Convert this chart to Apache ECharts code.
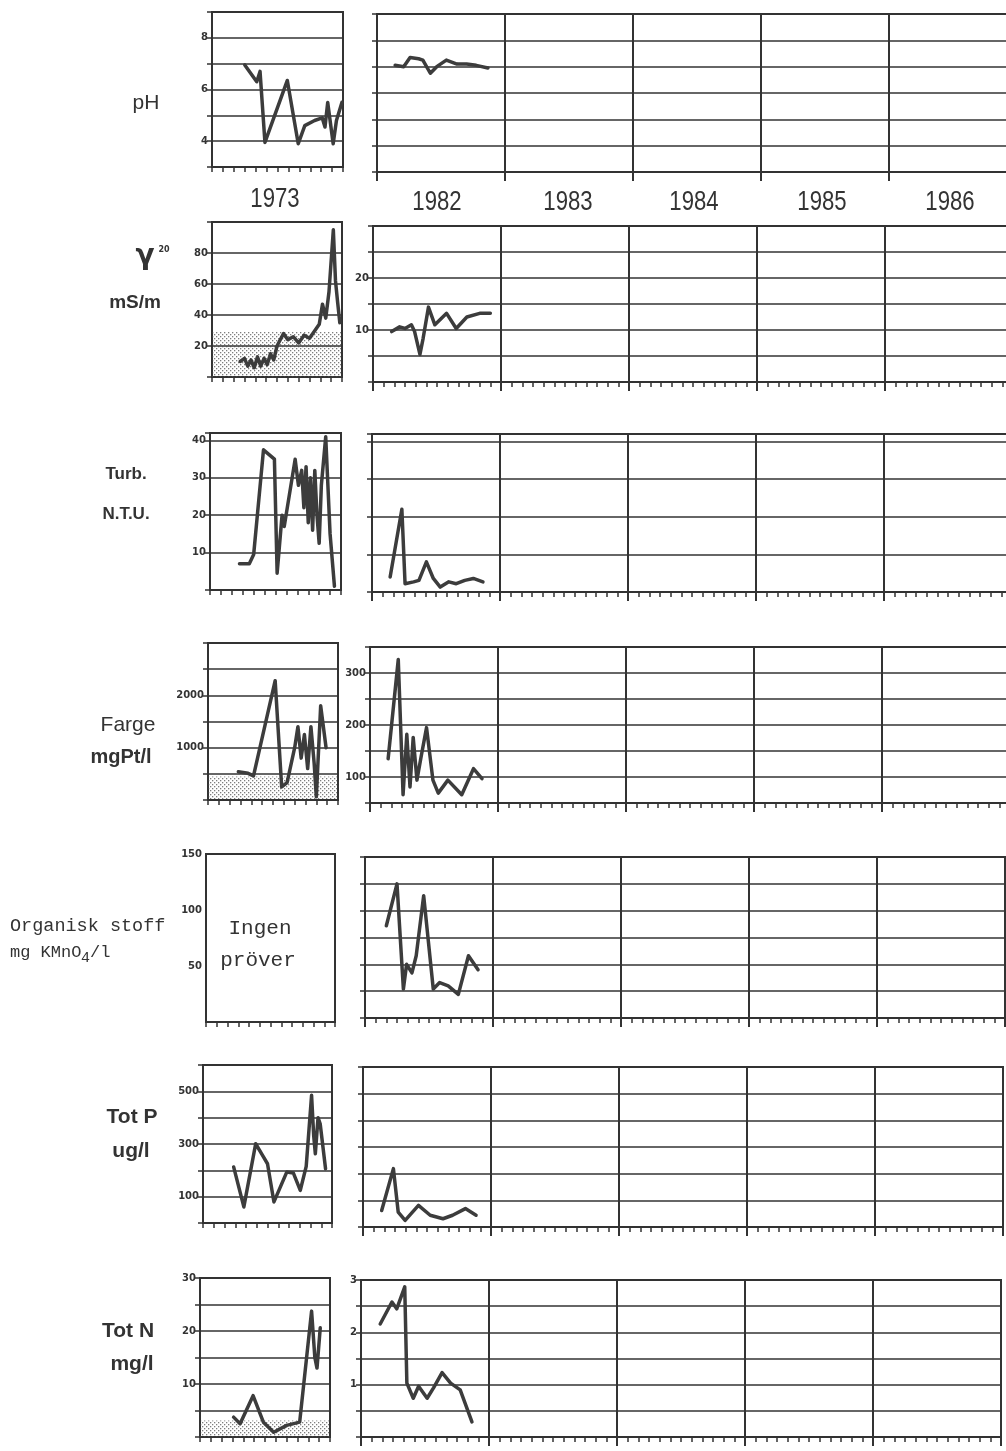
<!DOCTYPE html>
<html><head><meta charset="utf-8">
<script src="https://cdn.jsdelivr.net/npm/echarts@6/dist/echarts.min.js"></script>
<style>html,body{margin:0;padding:0;background:#fff}#c{width:1006px;height:1451px}</style>
</head><body><div id="c"></div>
<script>
// ---------- DATA (month within panel, value) ----------
const yearLabels = ['1973','1982','1983','1984','1985','1986'];
const rowTitles = ['pH','mS/m','Turb.','Farge','Organisk stoff','Tot P','Tot N'];

const ph1973 = [[3.0,6.95],[4.1,6.3],[4.4,6.7],[4.85,3.95],[6.9,6.35],[7.9,3.9],[8.5,4.6],[9.4,4.8],[10.1,4.9],[10.35,4.55],[10.6,5.5],[11.1,3.9],[11.4,4.8],[11.9,5.5]];
const ph1982 = [[1.7,7.05],[2.5,7.0],[3.1,7.35],[3.9,7.3],[4.3,7.25],[5.0,6.75],[5.6,7.0],[6.5,7.25],[7.5,7.1],[8.4,7.1],[9.3,7.05],[10.4,6.95]];

const cond1973 = [[2.6,10],[3.0,12],[3.3,7],[3.6,11],[3.9,6],[4.2,13],[4.5,7],[4.8,12],[5.1,8],[5.4,15],[5.7,11],[6.0,20],[6.3,24],[6.6,28],[7.0,24],[7.5,26],[8.0,22],[8.5,27],[9.0,25],[9.5,30],[9.9,34],[10.2,47],[10.5,38],[10.8,55],[11.2,95],[11.4,62],[11.6,48],[11.8,35]];
const cond1982 = [[1.75,9.7],[2.5,10.6],[3.0,10.3],[3.6,11],[3.9,9.7],[4.4,5.3],[4.7,8.4],[5.2,14.4],[5.8,11],[6.9,13.2],[7.8,10.3],[8.8,12.5],[10.0,13.2],[11.0,13.2]];

const turb1973 = [[2.7,7],[3.6,7],[4.0,9.5],[4.9,37.5],[5.9,35],[6.15,4.5],[6.6,20],[6.8,17],[7.8,35],[8.1,28],[8.4,32],[8.6,22],[8.8,33],[9.0,18],[9.2,30],[9.4,16],[9.6,32],[9.8,20],[10.0,12.5],[10.2,28],[10.6,41],[11.0,15],[11.4,1]];
const turb1982 = [[1.7,4],[2.8,22],[3.1,2.2],[3.9,2.7],[4.4,3.1],[5.1,8],[5.75,3.6],[6.4,1.3],[7.2,2.7],[7.9,2.2],[8.7,3.1],[9.5,3.6],[10.4,2.7]];

const farge1973 = [[2.8,540],[3.7,510],[4.2,460],[6.2,2280],[6.8,250],[7.3,330],[8.0,1000],[8.3,1400],[8.6,800],[8.9,1250],[9.2,600],[9.5,1400],[9.8,700],[10.0,60],[10.4,1800],[10.9,1000]];
const farge1982 = [[1.7,135],[2.65,326],[3.1,66],[3.45,182],[3.75,81],[4.05,176],[4.4,94],[4.8,140],[5.3,195],[5.9,94],[6.4,69],[7.3,94],[8.6,66],[9.7,116],[10.5,97]];

const org1982 = [[2.0,86],[3.0,125],[3.6,27],[3.9,50],[4.4,42],[4.8,58],[5.5,114],[6.4,27],[7.0,33],[7.8,30],[8.75,22],[9.7,58],[10.6,45]];

const totp1973 = [[2.85,213],[3.8,61],[4.9,301],[5.5,260],[6.0,225],[6.6,80],[7.8,194],[8.4,190],[9.05,124],[9.6,215],[10.1,485],[10.3,330],[10.45,263],[10.7,400],[10.9,377],[11.4,206]];
const totp1982 = [[1.75,62],[2.85,219],[3.3,56],[3.95,25],[5.2,81],[6.3,44],[7.5,31],[8.4,44],[9.6,69],[10.6,44]];

const totn1973 = [[3.1,3.75],[3.7,2.5],[4.9,7.8],[5.85,2.8],[6.8,0.9],[8.0,2.2],[9.2,2.8],[10.3,23.75],[10.6,15],[10.8,13],[11.1,20.6]];
const totn1982 = [[1.8,2.16],[2.9,2.58],[3.35,2.45],[4.1,2.87],[4.3,1.03],[4.9,0.74],[5.4,0.97],[6.2,0.74],[6.8,0.94],[7.6,1.23],[8.4,1.03],[9.3,0.9],[10.4,0.29]];

// shaded (dotted) limit bands in 1973 panels
const condShade = [0, 29];
const fargeShade = [0, 450];
const totnShade = [0, 3.1];

// tick labels shown
const ph1973Ticks = [4,6,8];
const cond1973Ticks = [20,40,60,80];
const cond1982Ticks = [10,20];
const turb1973Ticks = [10,20,30,40];
const farge1973Ticks = [1000,2000];
const farge1982Ticks = [100,200,300];
const org1973Ticks = [50,100,150];
const totp1973Ticks = [100,300,500];
const totn1973Ticks = [10,20,30];
const totn1982Ticks = [1,2,3];

// ---------- STYLE / LAYOUT ----------
const INK = '#333';
const LINE = '#3c3c3c';

function dotPattern(){
  const c = document.createElement('canvas'); c.width = 4; c.height = 4;
  const g = c.getContext('2d');
  g.fillStyle = 'rgba(70,70,70,0.7)';
  g.fillRect(0,0,1.3,1.3); g.fillRect(2,2,1.3,1.3);
  return c;
}
const pattern = {image: dotPattern(), repeat: 'repeat'};

// right panels: 5 years, 128 px per year (upper ones run past the page edge)
const RW = 640;
const panels = [
  {g:[212,12,131,155], x:'L', y:[3,9,1], labels:ph1973Ticks, data:ph1973},
  {g:[377,14,RW,158], x:'R', y:[3,9,1], labels:[], data:ph1982, minor:false},
  {g:[212,222,130,155], x:'L', y:[0,100,20], labels:cond1973Ticks, data:cond1973, shade:condShade},
  {g:[373,226,RW,156], x:'R', y:[0,30,5], labels:cond1982Ticks, data:cond1982, minor:true},
  {g:[210,433,131,157], x:'L', y:[0,42,10], labels:turb1973Ticks, data:turb1973},
  {g:[372,434,RW,158], x:'R', y:[0,42,10], labels:[], data:turb1982, minor:true},
  {g:[208,643,130,157], x:'L', y:[0,3000,500], labels:farge1973Ticks, data:farge1973, shade:fargeShade},
  {g:[370,647,RW,156], x:'R', y:[50,350,50], labels:farge1982Ticks, data:farge1982, minor:true},
  {g:[206,854,129,168], x:'L', y:[0,150,50], labels:org1973Ticks, data:null, nogrid:true},
  {g:[365,857,RW,161], x:'R', y:[0,150,25], labels:[], data:org1982, minor:true},
  {g:[203,1065,129,158], x:'L', y:[0,600,100], labels:totp1973Ticks, data:totp1973},
  {g:[363,1067,RW,160], x:'R', y:[0,600,100], labels:[], data:totp1982, minor:true},
  {g:[200,1278,130,159], x:'L', y:[0,30,5], labels:totn1973Ticks, data:totn1973, shade:totnShade},
  {g:[361,1280,RW,157], x:'R', y:[0,3,0.5], labels:totn1982Ticks, data:totn1982, minor:true}
];

const grids = [], xAxes = [], yAxes = [], series = [];
panels.forEach((p, i) => {
  grids.push({left:p.g[0], top:p.g[1], width:p.g[2], height:p.g[3], show:true,
    outerBoundsMode:'none', containLabel:false,
    borderColor:INK, borderWidth:2, backgroundColor:'transparent'});
  if (p.x === 'L') {
    xAxes.push({type:'value', gridIndex:i, min:0, max:12, interval:1,
      axisLine:{show:false}, axisLabel:{show:false}, splitLine:{show:false},
      axisTick:{show:true, length:5, lineStyle:{color:INK, width:1.5}}});
  } else {
    xAxes.push({type:'value', gridIndex:i, min:0, max:60, interval:12,
      axisLine:{show:false}, axisLabel:{show:false},
      splitLine:{show:true, lineStyle:{color:INK, width:2}},
      axisTick:{show:true, length:9, lineStyle:{color:INK, width:2}},
      minorTick:{show:!!p.minor, splitNumber:12, length:5, lineStyle:{color:INK, width:1.5}}});
  }
  const labs = p.labels;
  yAxes.push({type:'value', gridIndex:i, min:p.y[0], max:p.y[1], interval:p.y[2],
    axisLine:{show:false},
    axisTick:{show:!p.nogrid, length:5, lineStyle:{color:INK, width:1.5}},
    axisLabel:{show:labs.length>0, margin:4, color:INK, fontSize:10, fontWeight:'bold',
      fontFamily:'DejaVu Sans',
      formatter: v => labs.some(l => Math.abs(l - v) < 1e-9) ? String(v) : ''},
    splitLine:{show:!p.nogrid, lineStyle:{color:INK, width:1.5}}});
  if (p.data) {
    const s = {type:'line', xAxisIndex:i, yAxisIndex:i, data:p.data, symbol:'none',
      showSymbol:false, animation:false, silent:true,
      lineStyle:{color:LINE, width:3.5, join:'round', cap:'round'}};
    if (p.shade) {
      s.markArea = {silent:true, itemStyle:{color:pattern},
        data:[[{yAxis:p.shade[0]},{yAxis:p.shade[1]}]]};
    }
    series.push(s);
  }
});

// text helpers
function txt(x, y, text, font, align, sx) {
  return {type:'text', x:x, y:y, scaleX: sx || 1, z:100,
    style:{text:text, font:font, fill:INK, textAlign:align||'center', align:align||'center',
      textVerticalAlign:'middle', verticalAlign:'middle'}};
}
const SANS = '"Liberation Sans", Arial, sans-serif';
const MONO = '"Liberation Mono", "DejaVu Sans Mono", monospace';
const yearX = [275, 437, 568, 694, 822, 950];
const yearY = [200, 203, 203, 203, 203, 203];

const graphic = [];
yearLabels.forEach((t, k) => graphic.push(txt(yearX[k], yearY[k], t, '27px ' + SANS, 'center', 0.82)));
graphic.push(txt(146, 103, rowTitles[0], '21px ' + SANS));
graphic.push(txt(145, 257, 'γ', 'bold 28px "DejaVu Sans", sans-serif'));
graphic.push(txt(164, 250, '20', 'bold 8px "DejaVu Sans", sans-serif'));
graphic.push(txt(135, 303, rowTitles[1], 'bold 19px ' + SANS));
graphic.push(txt(126, 474, rowTitles[2], 'bold 17px ' + SANS));
graphic.push(txt(126, 514, 'N.T.U.', 'bold 17px ' + SANS));
graphic.push(txt(128, 725, rowTitles[3], '21px ' + SANS));
graphic.push(txt(121, 757, 'mgPt/l', 'bold 20px ' + SANS));
graphic.push(txt(10, 926, rowTitles[4], '18.5px ' + MONO, 'left'));
graphic.push(txt(10, 952, 'mg KMnO', '17px ' + MONO, 'left'));
graphic.push(txt(81, 958, '4', '15px ' + MONO, 'left'));
graphic.push(txt(90, 952, '/l', '17px ' + MONO, 'left'));
graphic.push(txt(260, 928, 'Ingen', '21px ' + MONO));
graphic.push(txt(258, 960, 'pröver', '21px ' + MONO));
graphic.push(txt(132, 1117, rowTitles[5], 'bold 21px ' + SANS));
graphic.push(txt(131, 1151, 'ug/l', 'bold 21px ' + SANS));
graphic.push(txt(128, 1331, rowTitles[6], 'bold 21px ' + SANS));
graphic.push(txt(132, 1364, 'mg/l', 'bold 21px ' + SANS));

const chart = echarts.init(document.getElementById('c'), null, {renderer:'canvas'});
chart.setOption({
  backgroundColor:'#fff',
  animation:false,
  grid:grids, xAxis:xAxes, yAxis:yAxes, series:series, graphic:graphic
});
</script>
</body></html>
